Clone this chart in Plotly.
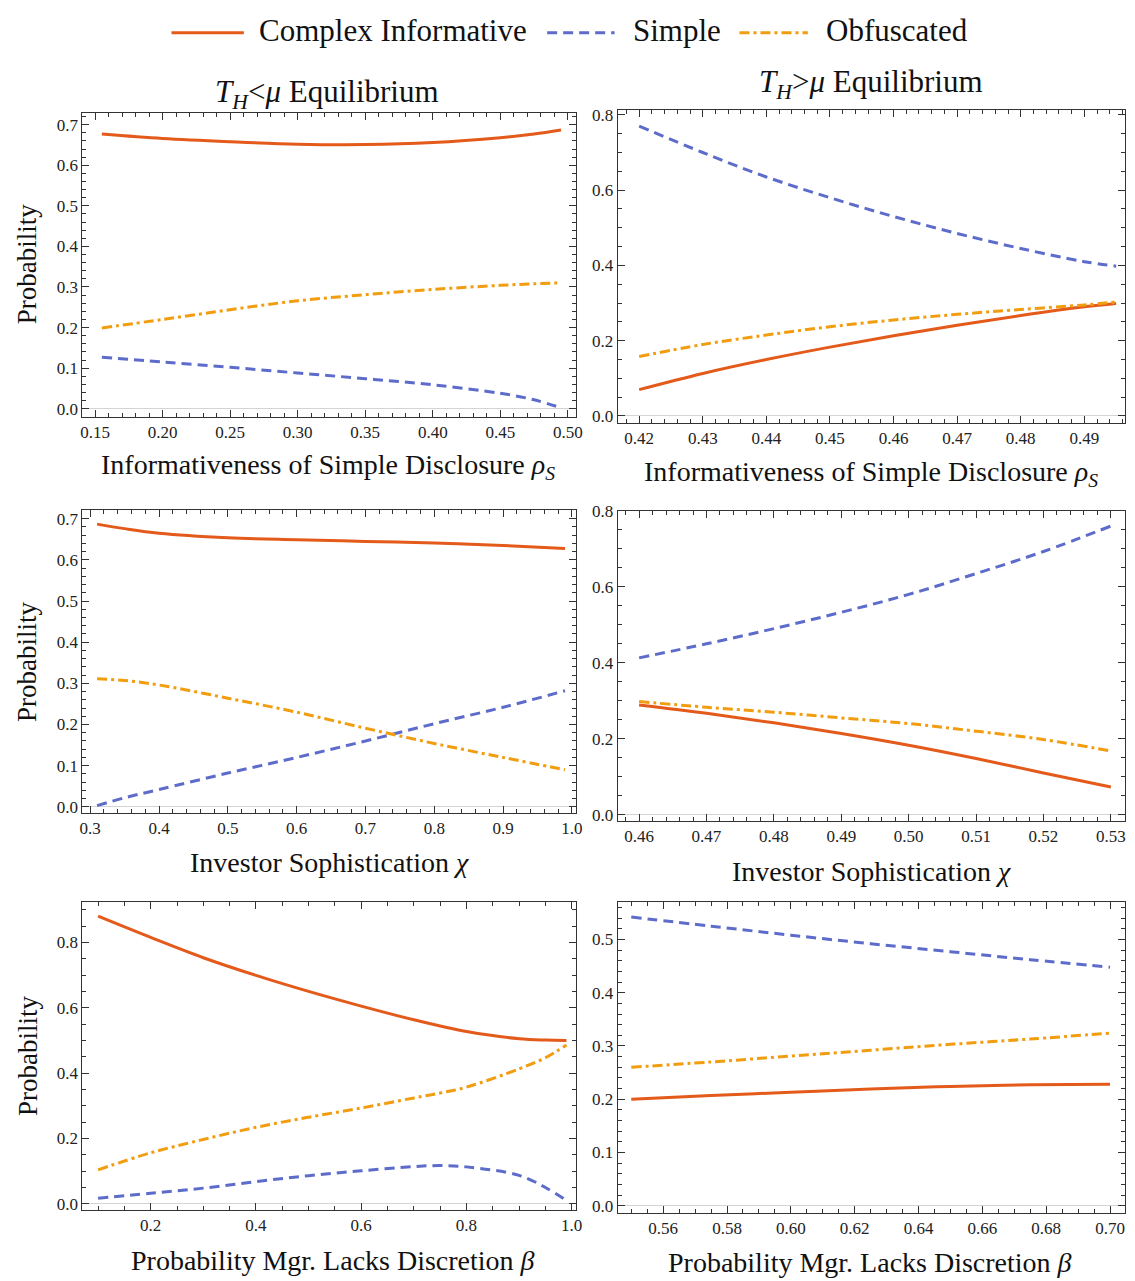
import plotly.graph_objects as go
from plotly.subplots import make_subplots

# ---------------- data ----------------
# Panel 1: T_H < mu, x = rho_S
p1_x = [0.155, 0.20, 0.25, 0.30, 0.35, 0.40, 0.45, 0.475, 0.495]
p1_complex = [0.677, 0.666, 0.658, 0.652, 0.651, 0.656, 0.668, 0.677, 0.687]
p1_simple = [0.127, 0.115, 0.102, 0.088, 0.074, 0.059, 0.038, 0.022, 0.002]
p1_obf = [0.199, 0.220, 0.244, 0.266, 0.281, 0.294, 0.304, 0.308, 0.310]

# Panel 2: T_H > mu, x = rho_S
p2_x = [0.42, 0.43, 0.44, 0.45, 0.46, 0.47, 0.48, 0.49, 0.495]
p2_complex = [0.070, 0.113, 0.150, 0.183, 0.213, 0.241, 0.267, 0.290, 0.299]
p2_simple = [0.770, 0.700, 0.635, 0.580, 0.530, 0.485, 0.445, 0.410, 0.398]
p2_obf = [0.158, 0.190, 0.215, 0.237, 0.255, 0.270, 0.283, 0.295, 0.303]

# Panel 3: T_H < mu, x = chi
p3_x = [0.31, 0.35, 0.40, 0.50, 0.60, 0.70, 0.80, 0.90, 0.99]
p3_complex = [0.687, 0.676, 0.665, 0.654, 0.649, 0.645, 0.641, 0.635, 0.628]
p3_simple = [0.003, 0.022, 0.042, 0.082, 0.120, 0.160, 0.202, 0.242, 0.282]
p3_obf = [0.311, 0.307, 0.296, 0.264, 0.230, 0.191, 0.154, 0.120, 0.090]

# Panel 4: T_H > mu, x = chi
p4_x = [0.46, 0.47, 0.48, 0.49, 0.50, 0.51, 0.52, 0.53]
p4_complex = [0.289, 0.267, 0.242, 0.214, 0.183, 0.148, 0.110, 0.073]
p4_simple = [0.413, 0.450, 0.490, 0.533, 0.580, 0.635, 0.693, 0.760]
p4_obf = [0.298, 0.283, 0.270, 0.255, 0.240, 0.220, 0.198, 0.168]

# Panel 5: T_H < mu, x = beta
p5_x = [0.10, 0.20, 0.30, 0.40, 0.50, 0.60, 0.70, 0.75, 0.80, 0.90, 0.95, 0.99]
p5_complex = [0.880, 0.815, 0.753, 0.699, 0.650, 0.605, 0.563, 0.544, 0.527, 0.505, 0.501, 0.500]
p5_simple = [0.017, 0.032, 0.048, 0.068, 0.086, 0.101, 0.114, 0.117, 0.113, 0.087, 0.050, 0.010]
p5_obf = [0.104, 0.156, 0.197, 0.234, 0.265, 0.293, 0.324, 0.339, 0.357, 0.413, 0.447, 0.486]

# Panel 6: T_H > mu, x = beta
p6_x = [0.55, 0.575, 0.60, 0.625, 0.65, 0.675, 0.70]
p6_complex = [0.200, 0.207, 0.213, 0.219, 0.224, 0.227, 0.228]
p6_simple = [0.542, 0.525, 0.508, 0.492, 0.477, 0.462, 0.448]
p6_obf = [0.260, 0.270, 0.281, 0.292, 0.303, 0.313, 0.324]

series_names = ["Complex Informative", "Simple", "Obfuscated"]
titles = ["<i>T<sub>H</sub></i>&lt;<i>μ</i> Equilibrium", "<i>T<sub>H</sub></i>&gt;<i>μ</i> Equilibrium"]
xlabels = ["Informativeness of Simple Disclosure <i>ρ<sub>S</sub></i>",
           "Investor Sophistication <i>χ</i>",
           "Probability Mgr. Lacks Discretion <i>β</i>"]
ylabel = "Probability"

# ---------------- style ----------------
FONT = "Liberation Serif"
C_COMPLEX = "#E35A1B"
C_SIMPLE = "#5D6CCB"
C_OBF = "#F29D0F"
styles = [
    dict(color=C_COMPLEX, width=3, dash="solid"),
    dict(color=C_SIMPLE, width=3, dash="10px,6px"),
    dict(color=C_OBF, width=3, dash="10px,4px,3px,4px"),
]

W, H = 1135, 1281

panels = [
    (p1_x, [p1_complex, p1_simple, p1_obf]),
    (p2_x, [p2_complex, p2_simple, p2_obf]),
    (p3_x, [p3_complex, p3_simple, p3_obf]),
    (p4_x, [p4_complex, p4_simple, p4_obf]),
    (p5_x, [p5_complex, p5_simple, p5_obf]),
    (p6_x, [p6_complex, p6_simple, p6_obf]),
]

# pixel frames (left, right, top, bottom)
frames = [
    (80, 578, 105, 412),
    (620, 1132, 102, 418),
    (80, 578, 506, 812),
    (620, 1132, 507, 820),
    (80, 578, 902, 1213),
    (620, 1132, 902, 1216),
]
xranges = [(0.1405, 0.506), (0.4166, 0.4964), (0.2885, 1.0058),
           (0.4568, 0.5321), (0.070, 1.0079), (0.5457, 0.7047)]
yranges = [(-0.020, 0.729), (-0.018, 0.813), (-0.0144, 0.7216),
           (-0.0156, 0.80), (-0.018, 0.924), (-0.013, 0.5706)]
xticks = [(0.05, 0.01, ".2f"), (0.01, 0.002, ".2f"), (0.1, 0.02, ".1f"),
          (0.01, 0.002, ".2f"), (0.2, 0.05, ".1f"), (0.02, 0.005, ".2f")]
yticks = [(0.1, 0.02), (0.2, 0.05), (0.1, 0.02), (0.2, 0.05), (0.2, 0.05), (0.1, 0.02)]

fig = make_subplots(rows=3, cols=2)

for i, (xs, ys_list) in enumerate(panels):
    r, c = i // 2 + 1, i % 2 + 1
    for j, ys in enumerate(ys_list):
        fig.add_trace(go.Scatter(x=xs, y=ys, mode="lines",
                                 line=dict(shape="spline", smoothing=1.0, **styles[j]),
                                 name=series_names[j], showlegend=False, hoverinfo="skip"),
                      row=r, col=c)

for i in range(6):
    l, rgt, t, b = frames[i]
    xa = "xaxis" if i == 0 else f"xaxis{i+1}"
    ya = "yaxis" if i == 0 else f"yaxis{i+1}"
    xd, xm, xf = xticks[i]
    yd, ym = yticks[i]
    axis_common = dict(showline=True, linecolor="#333", linewidth=1, mirror="ticks",
                       ticks="inside", ticklen=7, tickcolor="#333", showgrid=False,
                       tickfont=dict(family=FONT, size=17, color="#222"))
    fig.layout[xa].update(domain=[l / W, rgt / W], range=list(xranges[i]), dtick=xd, tick0=0,
                          tickformat=xf, zeroline=False,
                          minor=dict(dtick=xm, tick0=0, ticks="inside", ticklen=4,
                                     tickcolor="#333", showgrid=False),
                          **axis_common)
    fig.layout[ya].update(domain=[1 - b / H, 1 - t / H], range=list(yranges[i]), dtick=yd, tick0=0,
                          tickformat=".1f", zeroline=True, zerolinecolor="#d4d4d4", zerolinewidth=1,
                          minor=dict(dtick=ym, tick0=0, ticks="inside", ticklen=4,
                                     tickcolor="#333", showgrid=False),
                          **axis_common)

annotations = []
# titles
annotations.append(dict(text=titles[0], x=327 / W, y=1 - 86 / H, xref="paper", yref="paper",
                        showarrow=False, font=dict(family=FONT, size=31, color="#111"),
                        xanchor="center", yanchor="middle"))
annotations.append(dict(text=titles[1], x=876 / W, y=1 - 76 / H, xref="paper", yref="paper",
                        showarrow=False, font=dict(family=FONT, size=31, color="#111"),
                        xanchor="center", yanchor="middle"))
# x-axis labels
xlabel_pos = [(328, 462), (876, 469), (329, 862), (876, 871), (333, 1264), (875, 1266)]
for i, (px, py) in enumerate(xlabel_pos):
    annotations.append(dict(text=xlabels[i // 2], x=px / W, y=1 - py / H, xref="paper", yref="paper",
                            showarrow=False, font=dict(family=FONT, size=28, color="#111"),
                            xanchor="center", yanchor="middle"))
# y-axis labels
for py in [258, 660, 1058]:
    annotations.append(dict(text=ylabel, x=25 / W, y=1 - py / H, xref="paper", yref="paper",
                            showarrow=False, textangle=-90, font=dict(family=FONT, size=27, color="#111"),
                            xanchor="center", yanchor="middle"))

# legend (manual, long line samples)
legend_items = [(170, 243, 256), (549, 617, 634), (743, 812, 828)]
shapes = []
for j, (x0, x1, tx) in enumerate(legend_items):
    shapes.append(dict(type="line", xref="paper", yref="paper", x0=x0 / W, x1=x1 / W,
                       y0=1 - 24 / H, y1=1 - 24 / H,
                       line=dict(color=styles[j]["color"], width=3, dash=styles[j]["dash"])))
    annotations.append(dict(text=series_names[j], x=tx / W, y=1 - 22 / H, xref="paper", yref="paper",
                            showarrow=False, font=dict(family=FONT, size=31, color="#111"),
                            xanchor="left", yanchor="middle"))

fig.update_layout(width=W, height=H, margin=dict(l=0, r=0, t=0, b=0),
                  paper_bgcolor="white", plot_bgcolor="white",
                  annotations=annotations, shapes=shapes, showlegend=False)

fig.write_html("out.html", config={"displayModeBar": False},
               post_script="document.body.style.margin='0';document.body.style.overflow='hidden';")
